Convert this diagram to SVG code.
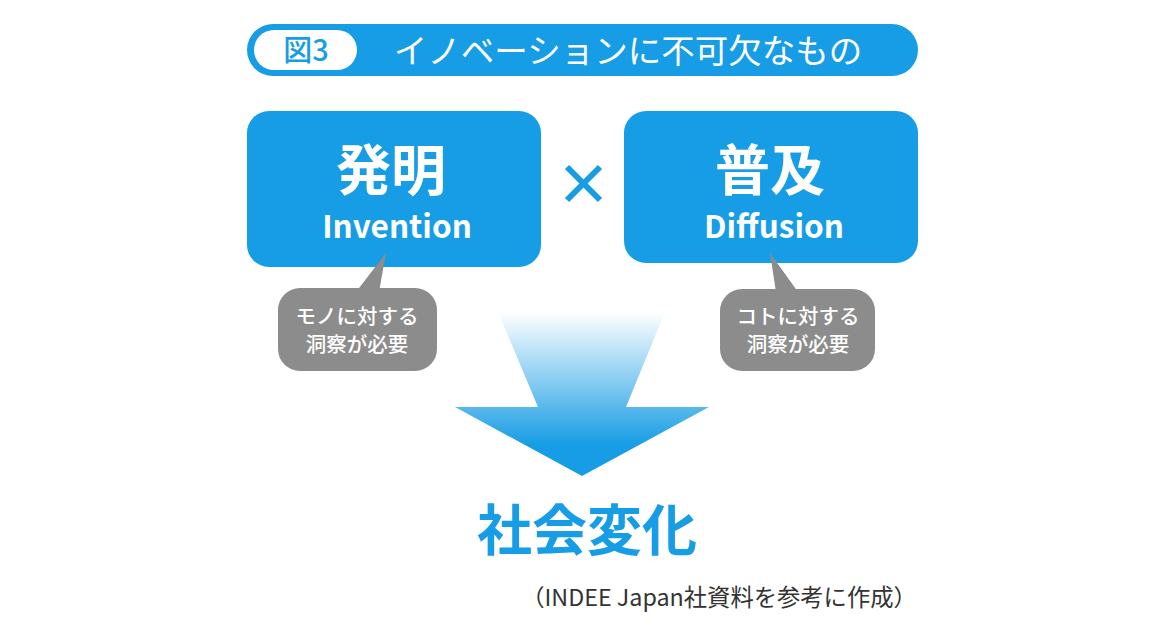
<svg xmlns="http://www.w3.org/2000/svg" width="1165" height="638" viewBox="0 0 1165 638">
  <style>
    text { font-family: "Noto Sans CJK JP", "Noto Sans", sans-serif; text-anchor: middle; }
    .blue { fill: #179de5; }
    .gray { fill: #8c8c8c; }
    .w { fill: #ffffff; }
    .big { font-size: 55px; font-weight: 700; }
    .en { font-size: 31.5px; font-weight: 700; }
    .note { font-size: 20.5px; font-weight: 500; }
  </style>
  <defs>
    <linearGradient id="fade" x1="0" y1="312" x2="0" y2="445" gradientUnits="userSpaceOnUse">
      <stop offset="0" stop-color="#179de5" stop-opacity="0"/>
      <stop offset="1" stop-color="#179de5" stop-opacity="1"/>
    </linearGradient>
  </defs>
  <rect width="1165" height="638" fill="#ffffff"/>

  <!-- heading bar -->
  <g id="title">
    <rect class="blue" x="247" y="24" width="671" height="52" rx="26"/>
    <rect class="w" x="254" y="30" width="103" height="40" rx="20"/>
    <text x="306" y="61" class="blue" style="font-size:29px;font-weight:500">図3</text>
    <text x="628" y="63" class="w" style="font-size:33.5px;font-weight:400">イノベーションに不可欠なもの</text>
  </g>

  <!-- invention box -->
  <g id="invention">
    <rect class="blue" x="247" y="111" width="294" height="156" rx="22"/>
    <text x="391" y="190" class="w big">発明</text>
    <text x="397" y="238" class="w en">Invention</text>
  </g>

  <!-- multiplication sign -->
  <g id="times" stroke="#179de5" stroke-width="6" stroke-linecap="butt">
    <line x1="567" y1="167" x2="600" y2="200"/>
    <line x1="600" y1="167" x2="567" y2="200"/>
  </g>

  <!-- diffusion box -->
  <g id="diffusion">
    <rect class="blue" x="624" y="111" width="294" height="152" rx="22"/>
    <text x="770" y="190" class="w big">普及</text>
    <text x="774" y="238" class="w en">Diffusion</text>
  </g>

  <!-- speech bubbles -->
  <g id="note-left">
    <polygon class="gray" points="386,253 356,292 379,292"/>
    <rect class="gray" x="278" y="288" width="159" height="83" rx="22"/>
    <text x="357" y="324" class="w note">モノに対する</text>
    <text x="357" y="352" class="w note">洞察が必要</text>
  </g>
  <g id="note-right">
    <polygon class="gray" points="770,253 776,292 798,292"/>
    <rect class="gray" x="720" y="289" width="155" height="82" rx="22"/>
    <text x="798" y="324" class="w note">コトに対する</text>
    <text x="798" y="352" class="w note">洞察が必要</text>
  </g>

  <!-- downward arrow -->
  <g id="connectors">
    <polygon fill="url(#fade)" points="498,312 665,312 626,407 709,407 582,476 455,407 538,407"/>
  </g>

  <!-- outcome -->
  <g id="outcome">
    <text x="587" y="550" class="blue" style="font-size:55px;font-weight:700">社会変化</text>
  </g>

  <text x="719" y="606" style="font-size:23.3px;font-weight:400;fill:#333333">（INDEE Japan社資料を参考に作成）</text>
</svg>
